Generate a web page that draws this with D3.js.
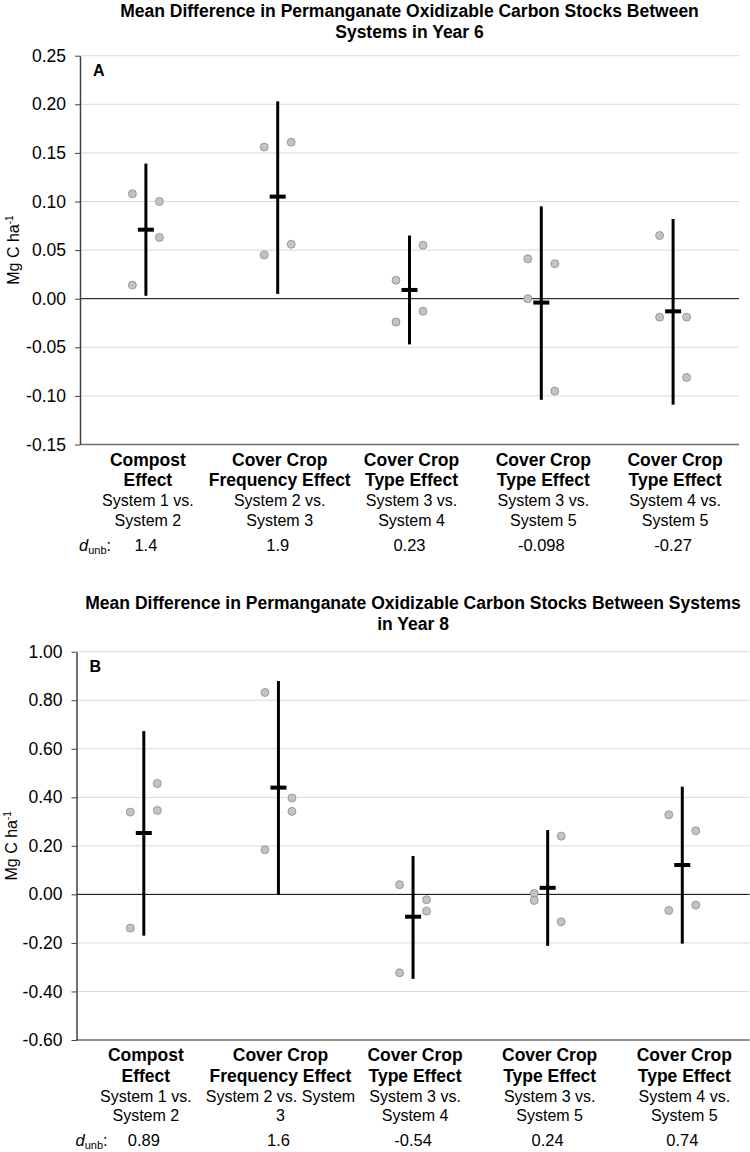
<!DOCTYPE html>
<html>
<head>
<meta charset="utf-8">
<script src="https://cdn.jsdelivr.net/npm/d3@7"></script>
<style>
  body { margin: 0; background: #fff; }
  svg { display: block; font-family: "Liberation Sans", Arial, sans-serif; }
  .grid line { stroke: #d9d9d9; stroke-width: 1; }
  .tick text { font-size: 17.5px; fill: #000; }
</style>
</head>
<body>
<div id="chart"></div>
<script>
// Category labels (bold effect name + comparison lines)
const effectLines = [
  ["Compost", "Effect"],
  ["Cover Crop", "Frequency Effect"],
  ["Cover Crop", "Type Effect"],
  ["Cover Crop", "Type Effect"],
  ["Cover Crop", "Type Effect"]
];
const comparisonLinesA = [
  ["System 1 vs.", "System 2"],
  ["System 2 vs.", "System 3"],
  ["System 3 vs.", "System 4"],
  ["System 3 vs.", "System 5"],
  ["System 4 vs.", "System 5"]
];
const comparisonLinesB = [
  ["System 1 vs.", "System 2"],
  ["System 2 vs. System", "3"],
  ["System 3 vs.", "System 4"],
  ["System 3 vs.", "System 5"],
  ["System 4 vs.", "System 5"]
];

// Panel A - Year 6
const titleA = ["Mean Difference in Permanganate Oxidizable Carbon Stocks Between", "Systems in Year 6"];
const ticksA = [-0.15, -0.10, -0.05, 0.00, 0.05, 0.10, 0.15, 0.20, 0.25];
const meanA  = [0.071, 0.105, 0.009, -0.004, -0.013];
const lowerA = [0.003, 0.005, -0.047, -0.104, -0.109];
const upperA = [0.139, 0.203, 0.065, 0.095, 0.082];
const leftDotsA  = [[0.108, 0.014], [0.156, 0.045], [0.019, -0.024], [0.041, 0.000], [0.065, -0.019]];
const rightDotsA = [[0.100, 0.063], [0.161, 0.056], [0.055, -0.013], [0.036, -0.095], [-0.019, -0.081]];
const dUnbA = ["1.4", "1.9", "0.23", "-0.098", "-0.27"];

// Panel B - Year 8
const titleB = ["Mean Difference in Permanganate Oxidizable Carbon Stocks Between Systems", "in Year 8"];
const ticksB = [-0.60, -0.40, -0.20, 0.00, 0.20, 0.40, 0.60, 0.80, 1.00];
const meanB  = [0.253, 0.440, -0.092, 0.027, 0.121];
const lowerB = [-0.170, 0.000, -0.348, -0.212, -0.203];
const upperB = [0.673, 0.879, 0.158, 0.265, 0.444];
const leftDotsB  = [[0.339, -0.139], [0.832, 0.184], [0.040, -0.323], [0.004, -0.025], [0.328, -0.066]];
const rightDotsB = [[0.457, 0.346], [0.397, 0.342], [-0.022, -0.069], [0.240, -0.113], [0.262, -0.044]];
const dUnbB = ["0.89", "1.6", "-0.54", "0.24", "0.74"];

const svg = d3.select("#chart").append("svg")
    .attr("width", 750)
    .attr("height", 1152);

function drawPanel(cfg) {
    const g = svg.append("g");

    const x = d3.scaleBand()
        .domain(d3.range(cfg.mean.length))
        .range([cfg.left, cfg.right]);

    const y = d3.scaleLinear()
        .domain([cfg.ticks[0], cfg.ticks[cfg.ticks.length - 1]])
        .range([cfg.bottom, cfg.top]);

    const cx = i => x(i) + x.bandwidth() / 2;
    const fmt = v => v.toFixed(2);

    // title
    const midX = (cfg.left + cfg.right) / 2;
    g.append("text")
        .attr("text-anchor", "middle")
        .style("font-weight", "bold")
        .style("font-size", "17.5px")
        .selectAll("tspan")
        .data(cfg.title)
        .join("tspan")
            .attr("x", midX)
            .attr("y", (d, i) => cfg.titleY + i * 20.6)
            .text(d => d);

    // gridlines
    g.append("g")
        .attr("class", "grid")
        .selectAll("line")
        .data(cfg.ticks.filter(t => t !== 0 && t !== cfg.ticks[0]))
        .join("line")
            .attr("x1", cfg.left)
            .attr("x2", cfg.right)
            .attr("y1", d => y(d))
            .attr("y2", d => y(d));

    // zero line
    g.append("line")
        .attr("x1", cfg.left).attr("x2", cfg.right)
        .attr("y1", y(0)).attr("y2", y(0))
        .attr("stroke", "#000").attr("stroke-width", 1);

    // bottom axis line
    g.append("line")
        .attr("x1", cfg.left).attr("x2", cfg.right)
        .attr("y1", cfg.bottom).attr("y2", cfg.bottom)
        .attr("stroke", "#6b6b6b").attr("stroke-width", 1.5);

    // y axis
    const yAxis = g.append("g")
        .attr("transform", `translate(${cfg.left},0)`)
        .call(d3.axisLeft(y).tickValues(cfg.ticks).tickFormat(fmt).tickSize(5).tickPadding(9).tickSizeOuter(0));
    yAxis.select(".domain").attr("stroke", "#404040").attr("stroke-width", 1.5);
    yAxis.selectAll(".tick line").attr("stroke", "#404040");
    yAxis.selectAll(".tick text").style("font-size", "17.5px").attr("fill", "#000");
    yAxis.attr("font-family", null).attr("font-size", null);

    // y axis title
    const yt = g.append("text")
        .attr("transform", `translate(${cfg.yTitleX},${(cfg.top + cfg.bottom) / 2}) rotate(-90)`)
        .attr("text-anchor", "middle")
        .style("font-size", "16px");
    yt.append("tspan").text("Mg C ha");
    yt.append("tspan").attr("dy", -6).style("font-size", "10px").text("-1");

    // panel letter
    g.append("text")
        .attr("x", cfg.left + 13)
        .attr("y", cfg.top + 20)
        .style("font-weight", "bold")
        .style("font-size", "16px")
        .text(cfg.letter);

    // replicate dots
    const dots = [];
    cfg.leftDots.forEach((vals, i) => vals.forEach(v => dots.push({ i, v, side: -1 })));
    cfg.rightDots.forEach((vals, i) => vals.forEach(v => dots.push({ i, v, side: 1 })));
    g.selectAll(".dot")
        .data(dots)
        .join("circle")
            .attr("class", "dot")
            .attr("cx", d => cx(d.i) + d.side * 13.5)
            .attr("cy", d => y(d.v))
            .attr("r", 4)
            .attr("fill", "#c3c3c3")
            .attr("stroke", "#8a8a8a")
            .attr("stroke-width", 0.8);

    // confidence interval bars
    g.selectAll(".ci")
        .data(cfg.mean)
        .join("line")
            .attr("class", "ci")
            .attr("x1", (d, i) => cx(i))
            .attr("x2", (d, i) => cx(i))
            .attr("y1", (d, i) => y(cfg.upper[i]))
            .attr("y2", (d, i) => y(cfg.lower[i]))
            .attr("stroke", "#000")
            .attr("stroke-width", 3);

    // mean markers
    g.selectAll(".mean")
        .data(cfg.mean)
        .join("line")
            .attr("class", "mean")
            .attr("x1", (d, i) => cx(i) - 8)
            .attr("x2", (d, i) => cx(i) + 8)
            .attr("y1", d => y(d))
            .attr("y2", d => y(d))
            .attr("stroke", "#000")
            .attr("stroke-width", 4);

    // category labels
    const lab = g.append("g").attr("transform", `translate(0,${cfg.bottom})`);
    cfg.mean.forEach((d, i) => {
        const t = lab.append("text").attr("text-anchor", "middle");
        cfg.effects[i].forEach((s, k) => {
            t.append("tspan")
                .attr("x", cx(i) + 2)
                .attr("y", 21 + k * 20.5)
                .style("font-weight", "bold")
                .style("font-size", "17.5px")
                .text(s);
        });
        cfg.comparisons[i].forEach((s, k) => {
            t.append("tspan")
                .attr("x", cx(i) + 2)
                .attr("y", 61.5 + k * 19.5)
                .style("font-size", "16px")
                .text(s);
        });
        lab.append("text")
            .attr("x", cx(i))
            .attr("y", 106)
            .attr("text-anchor", "middle")
            .style("font-size", "16.5px")
            .text(cfg.dUnb[i]);
    });

    // d_unb label
    const dl = lab.append("text")
        .attr("x", cfg.left - 1)
        .attr("y", 106)
        .style("font-size", "16.5px");
    dl.append("tspan").style("font-style", "italic").text("d");
    dl.append("tspan").attr("dy", 3).style("font-size", "11px").text("unb");
    dl.append("tspan").attr("dy", -3).text(":");
}

drawPanel({
    letter: "A", title: titleA, titleY: 17, ticks: ticksA,
    left: 80, right: 739, top: 55.7, bottom: 444.5, yTitleX: 19,
    mean: meanA, lower: lowerA, upper: upperA,
    leftDots: leftDotsA, rightDots: rightDotsA, dUnb: dUnbA,
    effects: effectLines, comparisons: comparisonLinesA
});

drawPanel({
    letter: "B", title: titleB, titleY: 609, ticks: ticksB,
    left: 76.5, right: 749.6, top: 651.7, bottom: 1040, yTitleX: 17,
    mean: meanB, lower: lowerB, upper: upperB,
    leftDots: leftDotsB, rightDots: rightDotsB, dUnb: dUnbB,
    effects: effectLines, comparisons: comparisonLinesB
});
</script>
</body>
</html>
